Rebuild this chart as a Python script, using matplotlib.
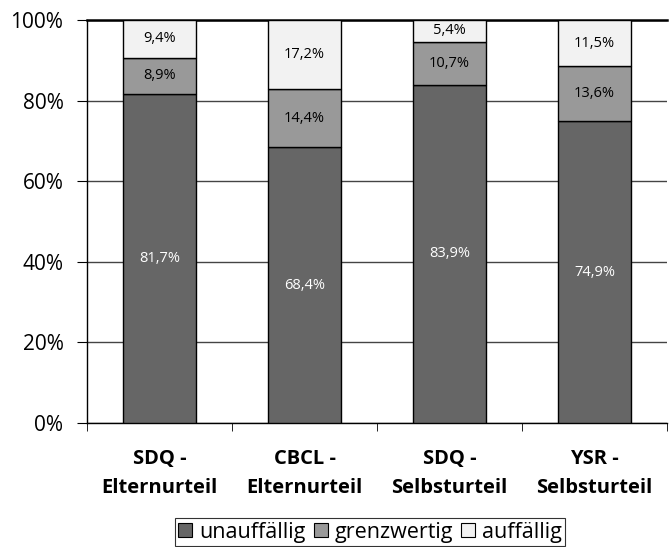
import matplotlib
matplotlib.use("Agg")
import matplotlib.pyplot as plt
from matplotlib.patches import Patch
import numpy as np

categories = ["SDQ -\nElternurteil", "CBCL -\nElternurteil", "SDQ -\nSelbsturteil", "YSR -\nSelbsturteil"]
unauffaellig = [81.7, 68.4, 83.9, 74.9]
grenzwertig = [8.9, 14.4, 10.7, 13.6]
auffaellig = [9.4, 17.2, 5.4, 11.5]
series_names = ["unauffällig", "grenzwertig", "auffällig"]
yticks = [0, 20, 40, 60, 80, 100]

colors = ["#666666", "#999999", "#f2f2f2"]
plt.rcParams['font.family'] = ['Open Sans', 'DejaVu Sans']

fig = plt.figure(figsize=(6.70, 5.47), dpi=100)
ax = fig.add_axes([87/670, 1-423/547, 580/670, 403/547])

x = np.arange(len(categories))
bottom = np.zeros(len(categories))
for vals, col, name in zip([unauffaellig, grenzwertig, auffaellig], colors, series_names):
    vals = np.array(vals)
    ax.bar(x, vals, 0.5, bottom=bottom, color=col, edgecolor="black", linewidth=1.0, zorder=3, label=name)
    for xi, b, v in zip(x, bottom, vals):
        tc = "white" if col == colors[0] else "black"
        ax.text(xi, b + v/2, f"{v:.1f}%".replace(".", ","), ha="center", va="center",
                fontsize=10.5, color=tc, zorder=4)
    bottom += vals

ax.set_xlim(-0.5, len(categories) - 0.5)
ax.set_ylim(0, 100)
ax.set_yticks(yticks)
ax.set_yticklabels([f"{t}%" for t in yticks], fontsize=15)
ax.yaxis.grid(True, color="#444444", linewidth=1.0, zorder=0)
ax.set_axisbelow(True)
ax.set_xticks(x)
ax.set_xticklabels(categories, fontsize=14.5, fontweight="bold", linespacing=1.55)
ax.tick_params(axis="x", length=0, pad=19)
ax.set_xticks(np.arange(len(categories)+1) - 0.5, minor=True)
ax.tick_params(axis="x", which="minor", length=6, direction="out", color="black")
ax.tick_params(axis="y", length=7, direction="out", color="black", pad=10)
ax.spines["right"].set_visible(False)
ax.spines["top"].set_linewidth(1.8)
for s in ["left", "bottom"]:
    ax.spines[s].set_linewidth(1.0)

handles = [Patch(facecolor=c, edgecolor="black", linewidth=0.8) for c in colors]
leg = fig.legend(handles, series_names, loc="lower center", bbox_to_anchor=(370/670, 0.002), ncol=3,
                 fontsize=15.5, frameon=True, fancybox=False, edgecolor="black",
                 handlelength=0.65, handleheight=0.65, handletextpad=0.3, columnspacing=0.4,
                 borderpad=0.15, borderaxespad=0.0)
leg.get_frame().set_linewidth(0.8)

fig.savefig("out.png", dpi=100)
